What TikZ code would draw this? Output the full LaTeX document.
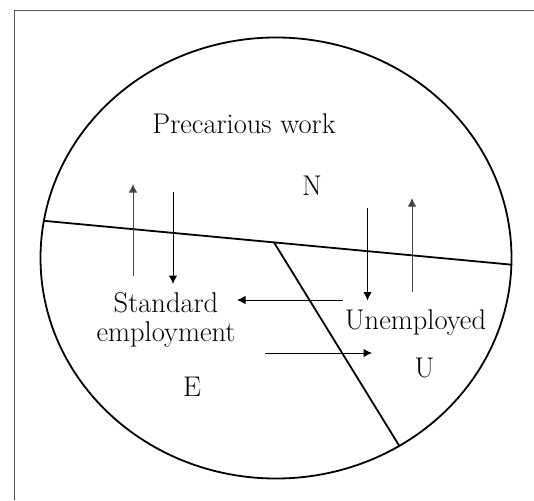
\documentclass[tikz,border=0pt]{standalone}
\usepackage{tikz}
\usetikzlibrary{arrows.meta,positioning}
\definecolor{framegray}{RGB}{85, 85, 85}
\definecolor{upgray}{RGB}{70, 70, 70}

\tikzset{
  region/.style={line width=1.8pt},
  flow/.style={line width=1pt, -{Latex[length=8.5pt,width=8.5pt]}},
  label/.style={font=\fontsize{28.5}{29}\selectfont, inner sep=0pt, align=center},
}

\begin{document}
\begin{tikzpicture}[x=1pt, y=-1pt]
        \useasboundingbox (0,0) rectangle (534,500);

        % Frame (cut off at right and bottom)
        \draw[framegray, line width=1.3pt] (14.3,500) -- (14.3,10.7) -- (534,10.7);

        % Outer ellipse
        \draw[region] (276,258) ellipse [x radius=235.5, y radius=220.5];

        % Division lines
        \coordinate (jn) at (274,242.4);
        \coordinate (wl) at (30,219.5);
        \coordinate (wr) at (530,266.4);
        \coordinate (sb) at (412,466.5);
        \begin{scope}
          \clip (276,258) ellipse [x radius=235.5, y radius=220.5];
          \draw[region] (wl) -- (wr);
          \draw[region] (jn) -- (sb);
        \end{scope}

        % Labels
        \node[label] (prec) at (244,124) {Precarious work};
        \node[label] (nlab) at (312,186) {N};
        \node[label] (std) at (166,320) {Standard\\employment};
        \node[label] (unem) at (415.5,322) {Unemployed};
        \node[label] (ulab) at (424.5,368) {U};
        \node[label] (elab) at (192,387) {E};

        % Flows between standard employment and precarious work
        \coordinate (a1s) at (133,276);
        \coordinate (a1e) at (133,184);
        \coordinate (a2s) at (173,192);
        \coordinate (a2e) at (173,284);
        \draw[flow, upgray] (a1s) -- (a1e);
        \draw[flow] (a2s) -- (a2e);

        % Flows between unemployed and precarious work
        \coordinate (a3s) at (367.5,208);
        \coordinate (a3e) at (367.5,300.5);
        \coordinate (a4s) at (412,292);
        \coordinate (a4e) at (412,198);
        \draw[flow] (a3s) -- (a3e);
        \draw[flow, upgray] (a4s) -- (a4e);

        % Flows between standard employment and unemployed
        \coordinate (a5s) at (343,300);
        \coordinate (a5e) at (237,300);
        \coordinate (a6s) at (265,353);
        \coordinate (a6e) at (372,353);
        \draw[flow] (a5s) -- (a5e);
        \draw[flow] (a6s) -- (a6e);
    \end{tikzpicture}
\end{document}
